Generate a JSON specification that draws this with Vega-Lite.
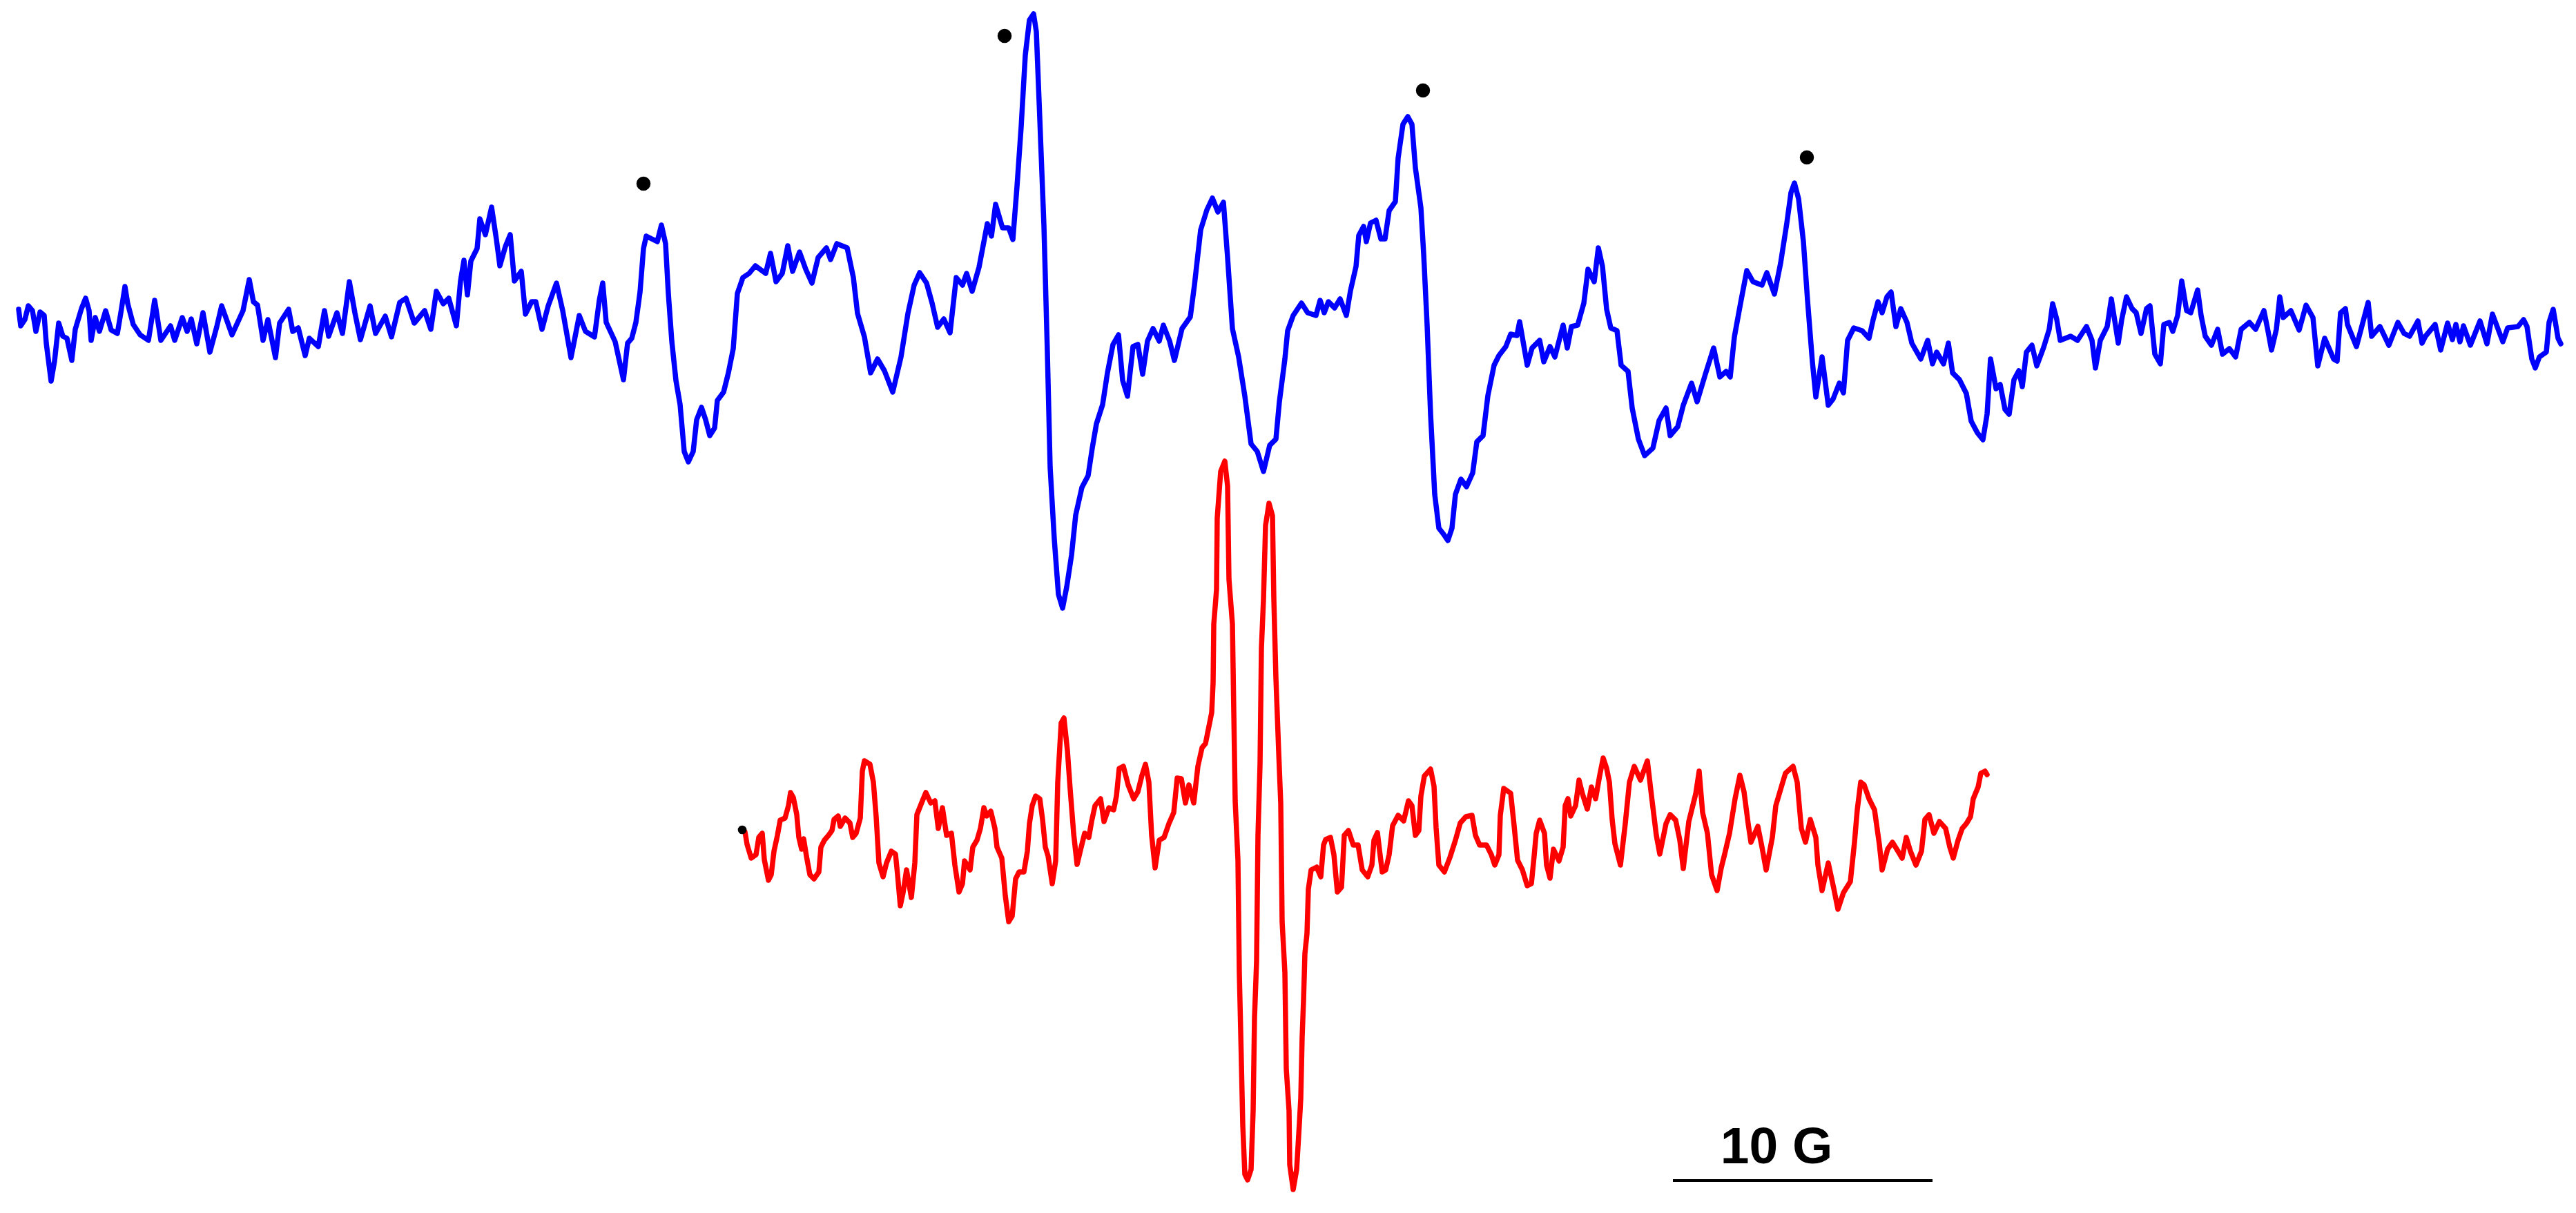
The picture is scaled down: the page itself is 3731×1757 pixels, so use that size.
{
  "$schema": "https://vega.github.io/schema/vega-lite/v6.json",
  "width": 3731,
  "height": 1757,
  "autosize": {"type": "fit", "contains": "padding"},
  "padding": 0,
  "background": "white",
  "config": {"view": {"stroke": null}},
  "datasets": {
    "blue": [
      {"x":27,"y":448},{"x":30,"y":472},{"x":36,"y":463},{"x":41,"y":443},{"x":47,"y":450},{"x":52,"y":480},{"x":58,"y":452},{"x":64,"y":457},{"x":67,"y":497},{"x":74,"y":552},{"x":79,"y":523},{"x":85,"y":468},{"x":91,"y":487},{"x":97,"y":490},{"x":104,"y":522},{"x":109,"y":477},{"x":118,"y":447},{"x":124,"y":432},{"x":129,"y":450},{"x":132,"y":493},{"x":138,"y":460},{"x":144,"y":480},{"x":153,"y":450},{"x":161,"y":478},{"x":170,"y":483},{"x":175,"y":453},{"x":181,"y":415},{"x":185,"y":440},{"x":193,"y":470},{"x":203,"y":485},{"x":215,"y":493},{"x":224,"y":435},{"x":233,"y":493},{"x":247,"y":472},{"x":253,"y":493},{"x":264,"y":460},{"x":271,"y":480},{"x":277,"y":462},{"x":285,"y":498},{"x":294,"y":453},{"x":304,"y":510},{"x":314,"y":473},{"x":321,"y":443},{"x":336,"y":485},{"x":352,"y":450},{"x":361,"y":405},{"x":367,"y":437},{"x":373,"y":442},{"x":381,"y":493},{"x":388,"y":463},{"x":399,"y":518},{"x":405,"y":468},{"x":418,"y":448},{"x":424,"y":480},{"x":432,"y":475},{"x":442,"y":515},{"x":448,"y":490},{"x":461,"y":502},{"x":470,"y":450},{"x":476,"y":487},{"x":488,"y":453},{"x":496,"y":483},{"x":506,"y":408},{"x":514,"y":453},{"x":522,"y":492},{"x":536,"y":443},{"x":544,"y":483},{"x":558,"y":458},{"x":567,"y":488},{"x":579,"y":438},{"x":588,"y":432},{"x":600,"y":468},{"x":615,"y":450},{"x":624,"y":477},{"x":632,"y":422},{"x":642,"y":440},{"x":650,"y":432},{"x":661,"y":472},{"x":667,"y":407},{"x":672,"y":377},{"x":677,"y":427},{"x":682,"y":378},{"x":691,"y":360},{"x":695,"y":317},{"x":703,"y":340},{"x":712,"y":300},{"x":719,"y":347},{"x":724,"y":385},{"x":732,"y":357},{"x":739,"y":340},{"x":745,"y":407},{"x":755,"y":393},{"x":761,"y":455},{"x":770,"y":437},{"x":776,"y":437},{"x":785,"y":477},{"x":794,"y":443},{"x":806,"y":410},{"x":815,"y":450},{"x":827,"y":518},{"x":839,"y":457},{"x":848,"y":480},{"x":861,"y":488},{"x":868,"y":435},{"x":873,"y":410},{"x":878,"y":467},{"x":891,"y":495},{"x":903,"y":550},{"x":909,"y":497},{"x":915,"y":490},{"x":921,"y":467},{"x":927,"y":423},{"x":932,"y":360},{"x":936,"y":342},{"x":952,"y":350},{"x":958,"y":326},{"x":964,"y":353},{"x":968,"y":425},{"x":973,"y":494},{"x":979,"y":551},{"x":985,"y":586},{"x":991,"y":654},{"x":997,"y":669},{"x":1004,"y":654},{"x":1009,"y":608},{"x":1016,"y":590},{"x":1022,"y":608},{"x":1028,"y":631},{"x":1035,"y":620},{"x":1039,"y":580},{"x":1048,"y":568},{"x":1055,"y":540},{"x":1062,"y":505},{"x":1068,"y":425},{"x":1076,"y":402},{"x":1085,"y":396},{"x":1094,"y":385},{"x":1109,"y":396},{"x":1116,"y":367},{"x":1124,"y":408},{"x":1133,"y":396},{"x":1141,"y":356},{"x":1148,"y":393},{"x":1158,"y":365},{"x":1167,"y":390},{"x":1176,"y":410},{"x":1185,"y":373},{"x":1197,"y":359},{"x":1203,"y":376},{"x":1212,"y":353},{"x":1227,"y":359},{"x":1236,"y":402},{"x":1242,"y":454},{"x":1252,"y":488},{"x":1261,"y":540},{"x":1271,"y":520},{"x":1281,"y":537},{"x":1293,"y":568},{"x":1305,"y":517},{"x":1315,"y":454},{"x":1324,"y":413},{"x":1332,"y":395},{"x":1342,"y":410},{"x":1350,"y":439},{"x":1358,"y":474},{"x":1367,"y":462},{"x":1376,"y":482},{"x":1385,"y":402},{"x":1394,"y":413},{"x":1400,"y":396},{"x":1408,"y":422},{"x":1418,"y":387},{"x":1430,"y":324},{"x":1436,"y":342},{"x":1442,"y":296},{"x":1452,"y":330},{"x":1461,"y":330},{"x":1467,"y":347},{"x":1473,"y":270},{"x":1479,"y":184},{"x":1485,"y":80},{"x":1491,"y":29},{"x":1497,"y":20},{"x":1501,"y":46},{"x":1506,"y":172},{"x":1512,"y":327},{"x":1517,"y":511},{"x":1521,"y":677},{"x":1527,"y":781},{"x":1533,"y":861},{"x":1539,"y":881},{"x":1545,"y":850},{"x":1552,"y":804},{"x":1558,"y":746},{"x":1567,"y":706},{"x":1576,"y":689},{"x":1582,"y":649},{"x":1588,"y":614},{"x":1597,"y":586},{"x":1604,"y":540},{"x":1612,"y":499},{"x":1620,"y":485},{"x":1626,"y":551},{"x":1633,"y":574},{"x":1641,"y":502},{"x":1648,"y":499},{"x":1655,"y":542},{"x":1662,"y":494},{"x":1670,"y":476},{"x":1679,"y":494},{"x":1685,"y":471},{"x":1694,"y":494},{"x":1701,"y":522},{"x":1712,"y":476},{"x":1724,"y":459},{"x":1730,"y":413},{"x":1739,"y":333},{"x":1748,"y":304},{"x":1756,"y":287},{"x":1764,"y":307},{"x":1772,"y":293},{"x":1778,"y":373},{"x":1785,"y":476},{"x":1794,"y":517},{"x":1803,"y":574},{"x":1812,"y":643},{"x":1821,"y":654},{"x":1830,"y":683},{"x":1839,"y":645},{"x":1848,"y":636},{"x":1853,"y":582},{"x":1861,"y":520},{"x":1865,"y":479},{"x":1873,"y":457},{"x":1885,"y":439},{"x":1894,"y":453},{"x":1906,"y":457},{"x":1912,"y":435},{"x":1918,"y":453},{"x":1924,"y":437},{"x":1933,"y":446},{"x":1941,"y":433},{"x":1950,"y":457},{"x":1956,"y":421},{"x":1964,"y":386},{"x":1968,"y":341},{"x":1975,"y":328},{"x":1979,"y":350},{"x":1985,"y":323},{"x":1993,"y":319},{"x":2000,"y":346},{"x":2006,"y":346},{"x":2012,"y":305},{"x":2021,"y":292},{"x":2025,"y":229},{"x":2032,"y":180},{"x":2039,"y":169},{"x":2045,"y":180},{"x":2050,"y":243},{"x":2058,"y":301},{"x":2062,"y":368},{"x":2067,"y":471},{"x":2072,"y":600},{"x":2078,"y":716},{"x":2084,"y":765},{"x":2091,"y":774},{"x":2097,"y":783},{"x":2103,"y":765},{"x":2108,"y":716},{"x":2116,"y":694},{"x":2124,"y":705},{"x":2133,"y":685},{"x":2139,"y":640},{"x":2148,"y":631},{"x":2155,"y":573},{"x":2164,"y":529},{"x":2171,"y":515},{"x":2181,"y":502},{"x":2188,"y":484},{"x":2197,"y":486},{"x":2201,"y":466},{"x":2212,"y":529},{"x":2219,"y":504},{"x":2230,"y":493},{"x":2236,"y":524},{"x":2245,"y":502},{"x":2252,"y":517},{"x":2264,"y":471},{"x":2270,"y":504},{"x":2276,"y":473},{"x":2285,"y":471},{"x":2294,"y":439},{"x":2300,"y":390},{"x":2309,"y":408},{"x":2315,"y":359},{"x":2321,"y":386},{"x":2327,"y":448},{"x":2333,"y":475},{"x":2342,"y":479},{"x":2348,"y":529},{"x":2358,"y":538},{"x":2364,"y":591},{"x":2373,"y":636},{"x":2382,"y":660},{"x":2394,"y":649},{"x":2403,"y":609},{"x":2413,"y":591},{"x":2419,"y":631},{"x":2430,"y":618},{"x":2438,"y":587},{"x":2450,"y":555},{"x":2458,"y":582},{"x":2470,"y":542},{"x":2482,"y":504},{"x":2491,"y":546},{"x":2500,"y":538},{"x":2506,"y":546},{"x":2512,"y":488},{"x":2521,"y":439},{"x":2530,"y":392},{"x":2539,"y":408},{"x":2552,"y":413},{"x":2559,"y":395},{"x":2570,"y":426},{"x":2579,"y":381},{"x":2588,"y":323},{"x":2594,"y":279},{"x":2599,"y":265},{"x":2605,"y":288},{"x":2612,"y":350},{"x":2618,"y":435},{"x":2625,"y":524},{"x":2630,"y":575},{"x":2639,"y":517},{"x":2648,"y":587},{"x":2655,"y":578},{"x":2664,"y":555},{"x":2670,"y":569},{"x":2676,"y":493},{"x":2685,"y":475},{"x":2697,"y":479},{"x":2707,"y":490},{"x":2713,"y":463},{"x":2720,"y":437},{"x":2726,"y":453},{"x":2733,"y":430},{"x":2739,"y":423},{"x":2746,"y":473},{"x":2753,"y":447},{"x":2762,"y":467},{"x":2769,"y":497},{"x":2782,"y":520},{"x":2792,"y":493},{"x":2799,"y":527},{"x":2805,"y":510},{"x":2815,"y":527},{"x":2822,"y":497},{"x":2828,"y":540},{"x":2838,"y":550},{"x":2848,"y":570},{"x":2855,"y":610},{"x":2864,"y":627},{"x":2872,"y":637},{"x":2878,"y":600},{"x":2883,"y":520},{"x":2891,"y":563},{"x":2897,"y":557},{"x":2904,"y":593},{"x":2910,"y":600},{"x":2917,"y":550},{"x":2924,"y":537},{"x":2929,"y":560},{"x":2935,"y":510},{"x":2943,"y":500},{"x":2950,"y":530},{"x":2960,"y":503},{"x":2968,"y":477},{"x":2973,"y":440},{"x":2979,"y":463},{"x":2984,"y":493},{"x":2999,"y":487},{"x":3009,"y":493},{"x":3022,"y":473},{"x":3030,"y":493},{"x":3035,"y":533},{"x":3042,"y":493},{"x":3052,"y":473},{"x":3058,"y":433},{"x":3068,"y":497},{"x":3073,"y":463},{"x":3080,"y":430},{"x":3088,"y":447},{"x":3094,"y":453},{"x":3101,"y":483},{"x":3109,"y":447},{"x":3114,"y":443},{"x":3121,"y":513},{"x":3129,"y":527},{"x":3134,"y":470},{"x":3142,"y":467},{"x":3147,"y":480},{"x":3154,"y":457},{"x":3160,"y":407},{"x":3167,"y":450},{"x":3173,"y":453},{"x":3183,"y":420},{"x":3188,"y":457},{"x":3194,"y":487},{"x":3203,"y":500},{"x":3212,"y":477},{"x":3219,"y":513},{"x":3229,"y":505},{"x":3238,"y":517},{"x":3246,"y":477},{"x":3258,"y":467},{"x":3267,"y":477},{"x":3279,"y":450},{"x":3285,"y":480},{"x":3290,"y":507},{"x":3297,"y":477},{"x":3302,"y":430},{"x":3307,"y":460},{"x":3318,"y":450},{"x":3330,"y":478},{"x":3340,"y":442},{"x":3350,"y":460},{"x":3357,"y":530},{"x":3367,"y":490},{"x":3380,"y":520},{"x":3385,"y":523},{"x":3390,"y":453},{"x":3397,"y":447},{"x":3400,"y":470},{"x":3413,"y":502},{"x":3430,"y":438},{"x":3435,"y":487},{"x":3447,"y":473},{"x":3460,"y":500},{"x":3473,"y":467},{"x":3482,"y":483},{"x":3490,"y":487},{"x":3502,"y":465},{"x":3508,"y":497},{"x":3513,"y":487},{"x":3527,"y":470},{"x":3535,"y":507},{"x":3545,"y":468},{"x":3552,"y":492},{"x":3557,"y":470},{"x":3563,"y":495},{"x":3568,"y":472},{"x":3578,"y":500},{"x":3592,"y":465},{"x":3602,"y":498},{"x":3610,"y":455},{"x":3625,"y":495},{"x":3632,"y":475},{"x":3647,"y":473},{"x":3655,"y":463},{"x":3660,"y":473},{"x":3667,"y":520},{"x":3672,"y":533},{"x":3678,"y":517},{"x":3688,"y":510},{"x":3692,"y":467},{"x":3698,"y":448},{"x":3705,"y":490},{"x":3709,"y":498}
    ],
    "red": [
      {"x":1079,"y":1205},{"x":1082,"y":1223},{"x":1088,"y":1243},{"x":1095,"y":1238},{"x":1099,"y":1213},{"x":1104,"y":1207},{"x":1107,"y":1245},{"x":1113,"y":1275},{"x":1117,"y":1267},{"x":1121,"y":1233},{"x":1126,"y":1210},{"x":1130,"y":1188},{"x":1137,"y":1185},{"x":1142,"y":1167},{"x":1145,"y":1148},{"x":1149,"y":1155},{"x":1154,"y":1180},{"x":1157,"y":1213},{"x":1161,"y":1230},{"x":1164,"y":1215},{"x":1168,"y":1240},{"x":1173,"y":1267},{"x":1179,"y":1273},{"x":1186,"y":1263},{"x":1189,"y":1227},{"x":1194,"y":1217},{"x":1200,"y":1210},{"x":1205,"y":1203},{"x":1208,"y":1187},{"x":1214,"y":1182},{"x":1217,"y":1197},{"x":1224,"y":1185},{"x":1231,"y":1192},{"x":1235,"y":1213},{"x":1240,"y":1207},{"x":1246,"y":1185},{"x":1249,"y":1117},{"x":1252,"y":1102},{"x":1260,"y":1107},{"x":1265,"y":1133},{"x":1269,"y":1183},{"x":1273,"y":1250},{"x":1279,"y":1270},{"x":1284,"y":1250},{"x":1291,"y":1233},{"x":1297,"y":1237},{"x":1300,"y":1267},{"x":1304,"y":1312},{"x":1308,"y":1293},{"x":1313,"y":1260},{"x":1320,"y":1300},{"x":1325,"y":1250},{"x":1328,"y":1180},{"x":1336,"y":1160},{"x":1341,"y":1148},{"x":1348,"y":1163},{"x":1354,"y":1160},{"x":1359,"y":1200},{"x":1365,"y":1170},{"x":1371,"y":1210},{"x":1378,"y":1207},{"x":1383,"y":1253},{"x":1389,"y":1292},{"x":1394,"y":1280},{"x":1397,"y":1247},{"x":1405,"y":1260},{"x":1409,"y":1227},{"x":1415,"y":1217},{"x":1420,"y":1200},{"x":1425,"y":1170},{"x":1429,"y":1182},{"x":1435,"y":1175},{"x":1441,"y":1200},{"x":1444,"y":1227},{"x":1451,"y":1243},{"x":1456,"y":1297},{"x":1461,"y":1335},{"x":1466,"y":1327},{"x":1471,"y":1273},{"x":1476,"y":1263},{"x":1483,"y":1263},{"x":1488,"y":1233},{"x":1491,"y":1193},{"x":1495,"y":1167},{"x":1500,"y":1153},{"x":1506,"y":1157},{"x":1510,"y":1187},{"x":1514,"y":1227},{"x":1518,"y":1240},{"x":1524,"y":1280},{"x":1529,"y":1247},{"x":1532,"y":1133},{"x":1537,"y":1047},{"x":1541,"y":1040},{"x":1546,"y":1087},{"x":1550,"y":1143},{"x":1555,"y":1207},{"x":1560,"y":1252},{"x":1566,"y":1227},{"x":1571,"y":1207},{"x":1577,"y":1213},{"x":1581,"y":1190},{"x":1586,"y":1167},{"x":1594,"y":1157},{"x":1599,"y":1190},{"x":1606,"y":1170},{"x":1613,"y":1173},{"x":1617,"y":1153},{"x":1621,"y":1113},{"x":1627,"y":1110},{"x":1634,"y":1137},{"x":1642,"y":1157},{"x":1648,"y":1147},{"x":1654,"y":1123},{"x":1659,"y":1107},{"x":1664,"y":1133},{"x":1668,"y":1210},{"x":1673,"y":1257},{"x":1679,"y":1217},{"x":1686,"y":1213},{"x":1693,"y":1193},{"x":1700,"y":1177},{"x":1705,"y":1127},{"x":1711,"y":1128},{"x":1717,"y":1163},{"x":1722,"y":1137},{"x":1729,"y":1163},{"x":1735,"y":1110},{"x":1741,"y":1083},{"x":1746,"y":1077},{"x":1755,"y":1032},{"x":1757,"y":989},{"x":1758,"y":904},{"x":1762,"y":854},{"x":1763,"y":750},{"x":1768,"y":683},{"x":1774,"y":668},{"x":1778,"y":704},{"x":1780,"y":839},{"x":1785,"y":904},{"x":1787,"y":1032},{"x":1789,"y":1160},{"x":1793,"y":1246},{"x":1795,"y":1409},{"x":1797,"y":1495},{"x":1800,"y":1630},{"x":1803,"y":1701},{"x":1807,"y":1709},{"x":1812,"y":1694},{"x":1815,"y":1609},{"x":1817,"y":1474},{"x":1820,"y":1392},{"x":1822,"y":1210},{"x":1825,"y":1107},{"x":1827,"y":939},{"x":1830,"y":868},{"x":1833,"y":761},{"x":1838,"y":729},{"x":1843,"y":747},{"x":1845,"y":868},{"x":1848,"y":982},{"x":1852,"y":1089},{"x":1855,"y":1164},{"x":1857,"y":1335},{"x":1861,"y":1409},{"x":1863,"y":1548},{"x":1867,"y":1609},{"x":1868,"y":1687},{"x":1873,"y":1723},{"x":1878,"y":1694},{"x":1882,"y":1627},{"x":1884,"y":1591},{"x":1886,"y":1502},{"x":1888,"y":1449},{"x":1890,"y":1381},{"x":1893,"y":1352},{"x":1895,"y":1288},{"x":1899,"y":1260},{"x":1907,"y":1256},{"x":1913,"y":1270},{"x":1917,"y":1224},{"x":1920,"y":1216},{"x":1927,"y":1213},{"x":1932,"y":1238},{"x":1937,"y":1292},{"x":1943,"y":1285},{"x":1947,"y":1210},{"x":1953,"y":1203},{"x":1960,"y":1224},{"x":1967,"y":1224},{"x":1973,"y":1260},{"x":1981,"y":1270},{"x":1987,"y":1253},{"x":1990,"y":1217},{"x":1995,"y":1206},{"x":1998,"y":1231},{"x":2002,"y":1263},{"x":2007,"y":1260},{"x":2012,"y":1238},{"x":2017,"y":1196},{"x":2025,"y":1181},{"x":2033,"y":1189},{"x":2040,"y":1160},{"x":2045,"y":1167},{"x":2050,"y":1210},{"x":2055,"y":1203},{"x":2058,"y":1153},{"x":2063,"y":1124},{"x":2072,"y":1114},{"x":2077,"y":1139},{"x":2080,"y":1199},{"x":2084,"y":1253},{"x":2092,"y":1263},{"x":2100,"y":1242},{"x":2108,"y":1217},{"x":2115,"y":1192},{"x":2123,"y":1183},{"x":2132,"y":1181},{"x":2137,"y":1210},{"x":2143,"y":1224},{"x":2153,"y":1224},{"x":2160,"y":1238},{"x":2165,"y":1253},{"x":2171,"y":1238},{"x":2173,"y":1181},{"x":2178,"y":1142},{"x":2188,"y":1149},{"x":2193,"y":1196},{"x":2198,"y":1246},{"x":2205,"y":1260},{"x":2212,"y":1283},{"x":2218,"y":1280},{"x":2222,"y":1240},{"x":2225,"y":1207},{"x":2230,"y":1188},{"x":2237,"y":1207},{"x":2240,"y":1253},{"x":2245,"y":1272},{"x":2250,"y":1230},{"x":2258,"y":1247},{"x":2264,"y":1227},{"x":2267,"y":1167},{"x":2271,"y":1157},{"x":2275,"y":1182},{"x":2282,"y":1167},{"x":2287,"y":1130},{"x":2292,"y":1150},{"x":2299,"y":1172},{"x":2305,"y":1140},{"x":2311,"y":1157},{"x":2317,"y":1123},{"x":2322,"y":1098},{"x":2327,"y":1113},{"x":2331,"y":1133},{"x":2335,"y":1187},{"x":2339,"y":1222},{"x":2347,"y":1253},{"x":2354,"y":1193},{"x":2360,"y":1133},{"x":2367,"y":1110},{"x":2376,"y":1130},{"x":2386,"y":1102},{"x":2392,"y":1153},{"x":2399,"y":1210},{"x":2404,"y":1237},{"x":2413,"y":1193},{"x":2419,"y":1180},{"x":2427,"y":1188},{"x":2433,"y":1217},{"x":2438,"y":1258},{"x":2446,"y":1190},{"x":2456,"y":1150},{"x":2461,"y":1117},{"x":2466,"y":1177},{"x":2473,"y":1207},{"x":2479,"y":1267},{"x":2487,"y":1290},{"x":2493,"y":1257},{"x":2498,"y":1237},{"x":2505,"y":1207},{"x":2513,"y":1157},{"x":2520,"y":1123},{"x":2526,"y":1147},{"x":2532,"y":1193},{"x":2536,"y":1220},{"x":2546,"y":1197},{"x":2552,"y":1227},{"x":2558,"y":1260},{"x":2567,"y":1213},{"x":2572,"y":1167},{"x":2580,"y":1140},{"x":2586,"y":1120},{"x":2597,"y":1110},{"x":2603,"y":1133},{"x":2609,"y":1200},{"x":2615,"y":1220},{"x":2622,"y":1187},{"x":2630,"y":1213},{"x":2633,"y":1253},{"x":2639,"y":1290},{"x":2648,"y":1250},{"x":2656,"y":1287},{"x":2662,"y":1317},{"x":2670,"y":1293},{"x":2680,"y":1277},{"x":2686,"y":1220},{"x":2690,"y":1173},{"x":2695,"y":1133},{"x":2700,"y":1137},{"x":2707,"y":1157},{"x":2715,"y":1173},{"x":2722,"y":1223},{"x":2726,"y":1260},{"x":2734,"y":1230},{"x":2741,"y":1220},{"x":2749,"y":1233},{"x":2755,"y":1243},{"x":2761,"y":1213},{"x":2767,"y":1233},{"x":2775,"y":1253},{"x":2783,"y":1233},{"x":2788,"y":1187},{"x":2794,"y":1180},{"x":2801,"y":1207},{"x":2809,"y":1190},{"x":2818,"y":1200},{"x":2824,"y":1227},{"x":2829,"y":1243},{"x":2836,"y":1217},{"x":2842,"y":1200},{"x":2848,"y":1193},{"x":2854,"y":1183},{"x":2858,"y":1157},{"x":2865,"y":1140},{"x":2869,"y":1120},{"x":2875,"y":1117},{"x":2878,"y":1122}
    ],
    "dots": [
      {"x":932,"y":266},{"x":1455,"y":52},{"x":2061,"y":131},{"x":2617,"y":228}
    ],
    "startdot": [
      {"x":1075,"y":1202}
    ],
    "bar": [
      {"x":2423,"x2":2799,"y":1710}
    ],
    "label": [
      {"x":2573,"y":1685,"text":"10 G"}
    ]
  },
  "encoding": {
    "x": {"field": "x", "type": "quantitative", "scale": {"domain": [0, 3731], "nice": false, "zero": false}, "axis": null},
    "y": {"field": "y", "type": "quantitative", "scale": {"domain": [0, 1757], "nice": false, "zero": false, "reverse": true}, "axis": null}
  },
  "layer": [
    {
      "data": {"name": "blue"},
      "mark": {"type": "line", "color": "#0000FF", "strokeWidth": 7.5, "strokeJoin": "round", "strokeCap": "round", "clip": false}
    },
    {
      "data": {"name": "red"},
      "mark": {"type": "line", "color": "#FF0000", "strokeWidth": 7.5, "strokeJoin": "round", "strokeCap": "round", "clip": false}
    },
    {
      "data": {"name": "dots"},
      "mark": {"type": "point", "filled": true, "color": "#000000", "size": 420, "opacity": 1}
    },
    {
      "data": {"name": "startdot"},
      "mark": {"type": "point", "filled": true, "color": "#000000", "size": 160, "opacity": 1}
    },
    {
      "data": {"name": "bar"},
      "mark": {"type": "rule", "color": "#000000", "strokeWidth": 4},
      "encoding": {"x2": {"field": "x2"}}
    },
    {
      "data": {"name": "label"},
      "mark": {"type": "text", "font": "Liberation Sans", "fontWeight": "bold", "fontSize": 75, "color": "#000000", "align": "center", "baseline": "alphabetic"},
      "encoding": {"text": {"field": "text", "type": "nominal"}}
    }
  ]
}
